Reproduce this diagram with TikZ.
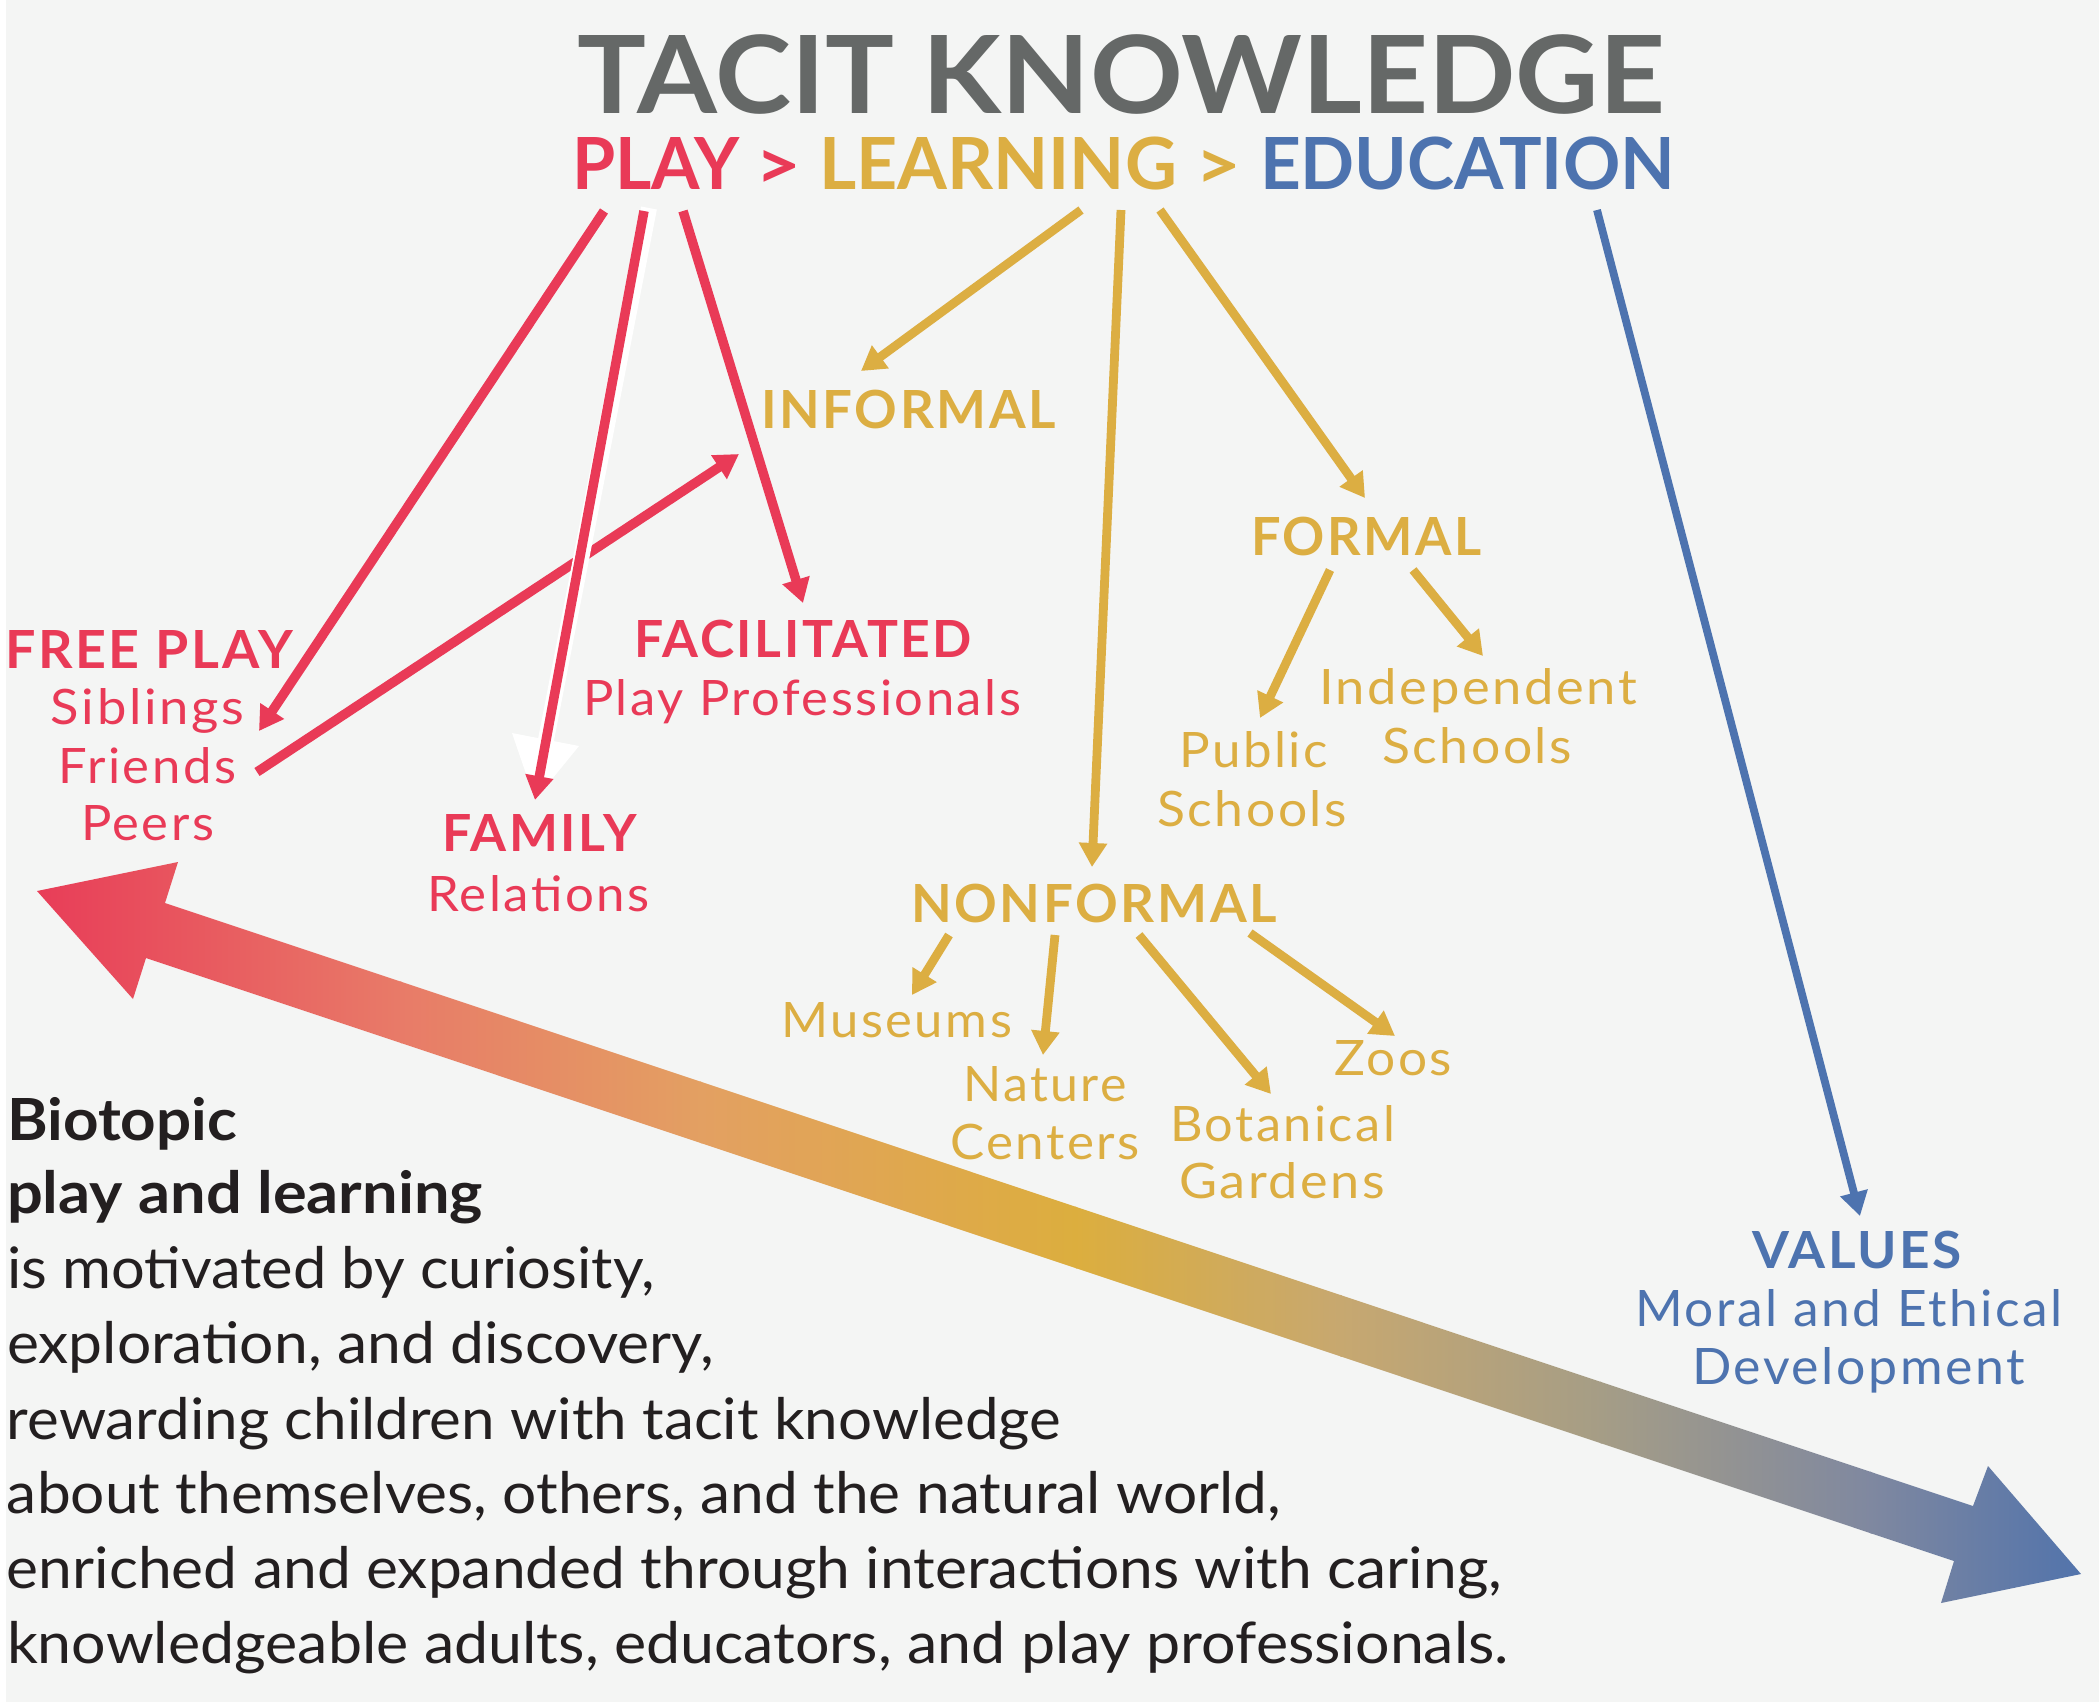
\documentclass[tikz,border=0pt]{standalone}
\usepackage{fontspec}
\usepackage{graphicx}
\setmainfont{Lato}
\newfontfamily\lblfont[LetterSpace=5]{Lato}
\usetikzlibrary{arrows.meta}

\definecolor{bg}{HTML}{F4F5F4}
\definecolor{playred}{HTML}{E93A57}
\definecolor{learngold}{HTML}{DCAE42}
\definecolor{edublue}{HTML}{4D73AF}
\definecolor{titlegrey}{HTML}{656867}
\definecolor{ink}{HTML}{231F20}
% stops of the long two-headed arrow
\definecolor{g0}{HTML}{E83C58}
\definecolor{g2}{HTML}{E87B68}
\definecolor{g3}{HTML}{E3A062}
\definecolor{g4}{HTML}{DCAE3E}
\definecolor{g5}{HTML}{C7A870}
\definecolor{g6}{HTML}{A59D86}
\definecolor{g7}{HTML}{7F88A0}
\definecolor{g8}{HTML}{4F72AC}

% one drawing unit = 0.01cm
\newlength\pxu \setlength\pxu{0.01cm}
\newlength\capht
% scale a line of text to a given width and a given height of reference glyph
\newcommand\fitref[4]{\settoheight\capht{#1}\resizebox{#2\pxu}{#3\pxu}{\smash{#4}\rule{0pt}{\capht}}}
\newcommand\fitto[3]{\fitref{H}{#1}{#2}{#3}}

\tikzset{
  lbl/.style={anchor=base west, inner sep=0pt, outer sep=0pt, font=\lblfont\fontsize{30}{36}\selectfont},
  hvy/.style={lbl, font=\lblfont\fontsize{30}{36}\selectfont\bfseries},
  para/.style={anchor=base west, inner sep=0pt, outer sep=0pt, text=ink, font=\fontsize{30}{36}\selectfont},
  tip/.style={-{Triangle[length=0.24cm,width=0.27cm]}},
  redarrow/.style={tip, draw=playred, line width=0.095cm},
  goldarrow/.style={tip, draw=learngold, line width=0.088cm},
  bluearrow/.style={tip, draw=edublue, line width=0.078cm},
}

\begin{document}
\begin{tikzpicture}[x=0.01cm, y=-0.01cm]
\useasboundingbox (0,0) rectangle (2099,1702);
\fill[bg] (0,0) rectangle (2099,1702);
\fill[white] (0,0) rectangle (6,1702);

% long two-headed arrow with a horizontal colour ramp
\begin{scope}
  \clip (37,891) -- (178,862) -- (165,903) -- (1973,1506) -- (1988,1466)
        -- (2081,1574) -- (1941,1603) -- (1954,1561) -- (146,958) -- (133,999) -- cycle;
  \shade[left color=g0, right color=g2] (30,840) rectangle (402,1620);
  \shade[left color=g2, right color=g3] (400,840) rectangle (702,1620);
  \shade[left color=g3, right color=g4] (700,840) rectangle (1077,1620);
  \shade[left color=g4, right color=g5] (1075,840) rectangle (1342,1620);
  \shade[left color=g5, right color=g6] (1340,840) rectangle (1602,1620);
  \shade[left color=g6, right color=g7] (1600,840) rectangle (1872,1620);
  \shade[left color=g7, right color=g8] (1870,840) rectangle (2095,1620);
\end{scope}

% heading
\node[lbl, text=titlegrey, font=\fontsize{30}{36}\selectfont\bfseries] (title) at (577,113) {\fitto{1088}{78}{TACIT KNOWLEDGE}};
\node[lbl, text=playred, font=\fontsize{30}{36}\selectfont\bfseries] (subplay) at (572,189) {\fitto{168}{52}{PLAY}};
\node[lbl, text=playred, font=\fontsize{30}{36}\selectfont\bfseries] (subgta) at (755,189) {\fitref{>}{46}{39}{>}};
\node[lbl, text=learngold, font=\fontsize{30}{36}\selectfont\bfseries] (sublearning) at (819,189) {\fitto{358}{52}{LEARNING}};
\node[lbl, text=learngold, font=\fontsize{30}{36}\selectfont\bfseries] (subgtb) at (1195,189) {\fitref{>}{46}{39}{>}};
\node[lbl, text=edublue, font=\fontsize{30}{36}\selectfont\bfseries] (subeducation) at (1260,189) {\fitto{415}{52}{EDUCATION}};

% play branch
\node[hvy, text=playred] (freeplay) at (5,668) {\fitto{288}{38}{FREE PLAY}};
\node[lbl, text=playred] (siblings) at (51,724) {\fitto{193}{35}{Siblings}};
\node[lbl, text=playred] (friends) at (58,783) {\fitto{178}{35}{Friends}};
\node[lbl, text=playred] (peers) at (81,840) {\fitto{133}{35}{Peers}};
\node[hvy, text=playred] (facilitated) at (634,657) {\fitto{338}{37}{FACILITATED}};
\node[lbl, text=playred] (playpros) at (583,715) {\fitto{438}{35}{Play Professionals}};
\node[hvy, text=playred] (family) at (442,851) {\fitto{195}{37}{FAMILY}};
\node[lbl, text=playred] (relations) at (427,911) {\fitto{223}{35}{Relations}};

% learning branch
\node[hvy, text=learngold] (informal) at (761,428) {\fitto{295}{38}{INFORMAL}};
\node[hvy, text=learngold] (formal) at (1251,555) {\fitto{231}{38}{FORMAL}};
\node[lbl, text=learngold] (independent) at (1319,704) {\fitto{318}{35}{Independent}};
\node[lbl, text=learngold] (indschools) at (1382,763) {\fitto{190}{35}{Schools}};
\node[lbl, text=learngold] (public) at (1179,767) {\fitto{149}{35}{Public}};
\node[lbl, text=learngold] (pubschools) at (1157,826) {\fitto{190}{35}{Schools}};
\node[hvy, text=learngold] (nonformal) at (911,922) {\fitto{366}{38}{NONFORMAL}};
\node[lbl, text=learngold] (museums) at (781,1037) {\fitto{231}{35}{Museums}};
\node[lbl, text=learngold] (nature) at (963,1101) {\fitto{164}{35}{Nature}};
\node[lbl, text=learngold] (centers) at (950,1159) {\fitto{190}{35}{Centers}};
\node[lbl, text=learngold] (botanical) at (1170,1141) {\fitto{225}{35}{Botanical}};
\node[lbl, text=learngold] (gardens) at (1179,1198) {\fitto{206}{35}{Gardens}};
\node[lbl, text=learngold] (zoos) at (1334,1075) {\fitto{118}{35}{Zoos}};

% education branch
\node[hvy, text=edublue] (values) at (1752,1268) {\fitto{210}{37}{VALUES}};
\node[lbl, text=edublue] (moral) at (1635,1326) {\fitto{428}{36}{Moral and Ethical}};
\node[lbl, text=edublue] (development) at (1692,1384) {\fitto{333}{36}{Development}};

% statement
\node[para, font=\fontsize{30}{36}\selectfont\bfseries] (bio1) at (7,1140) {\fitto{230}{42}{Biotopic}};
\node[para, font=\fontsize{30}{36}\selectfont\bfseries] (bio2) at (7,1213) {\fitto{476}{42}{play and learning}};
\node[para] (txt1) at (7,1288) {\fitto{648}{41}{is motivated by curiosity,}};
\node[para] (txt2) at (7,1363) {\fitto{707}{41}{exploration, and discovery,}};
\node[para] (txt3) at (7,1439) {\fitto{1054}{41}{rewarding children with tacit knowledge}};
\node[para] (txt4) at (7,1513) {\fitto{1274}{41}{about themselves, others, and the natural world,}};
\node[para] (txt5) at (7,1588) {\fitto{1495}{41}{enriched and expanded through interactions with caring,}};
\node[para] (txt6) at (7,1663) {\fitto{1502}{41}{knowledgeable adults, educators, and play professionals.}};

% connector ends
\coordinate (playA) at (604,211);  \coordinate (freeplayIn) at (259,731);
\coordinate (playB) at (644,211);  \coordinate (familyIn) at (535,800);
\coordinate (playC) at (683,211);  \coordinate (facilIn) at (803,603);
\coordinate (friendsOut) at (257,772); \coordinate (informalSide) at (739,454);
\coordinate (learnA) at (1081,210); \coordinate (informalIn) at (861,371);
\coordinate (learnB) at (1121,210); \coordinate (nonformalIn) at (1092,867);
\coordinate (learnC) at (1160,210); \coordinate (formalIn) at (1365,498);
\coordinate (formalA) at (1330,570); \coordinate (publicIn) at (1260,718);
\coordinate (formalB) at (1413,570); \coordinate (indepIn) at (1483,656);
\coordinate (nonA) at (949,935);  \coordinate (museumsIn) at (912,995);
\coordinate (nonB) at (1055,935); \coordinate (natureIn) at (1043,1055);
\coordinate (nonC) at (1139,935); \coordinate (botanicalIn) at (1271,1094);
\coordinate (nonD) at (1250,933); \coordinate (zoosIn) at (1395,1036);
\coordinate (eduA) at (1597,210); \coordinate (valuesIn) at (1860,1216);
\coordinate (haloTop) at (649,208); \coordinate (haloEnd) at (545,745);

% play connectors
\draw[redarrow] (friendsOut) -- (informalSide);
\draw[white, line width=0.16cm] (haloTop) -- (haloEnd);
\fill[white] (512,733) -- (579,746) -- (familyIn) -- cycle;
\draw[redarrow] (playA) -- (freeplayIn);
\draw[redarrow] (playB) -- (familyIn);
\draw[redarrow] (playC) -- (facilIn);

% learning connectors
\draw[goldarrow] (learnA) -- (informalIn);
\draw[goldarrow] (learnB) -- (nonformalIn);
\draw[goldarrow] (learnC) -- (formalIn);
\draw[goldarrow] (formalA) -- (publicIn);
\draw[goldarrow] (formalB) -- (indepIn);
\draw[goldarrow] (nonA) -- (museumsIn);
\draw[goldarrow] (nonB) -- (natureIn);
\draw[goldarrow] (nonC) -- (botanicalIn);
\draw[goldarrow] (nonD) -- (zoosIn);

% education connector
\draw[bluearrow] (eduA) -- (valuesIn);
\end{tikzpicture}
\end{document}
